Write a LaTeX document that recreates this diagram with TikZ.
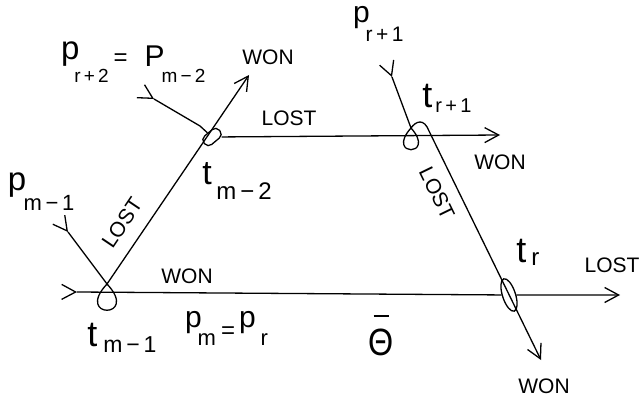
\documentclass[tikz,border=0pt]{standalone}
\usepackage{fontspec}
\setmainfont{Liberation Sans}
\usetikzlibrary{arrows.meta,decorations.markings,shapes.geometric}
\newcommand\fsz[1]{\fontsize{#1}{#1}\selectfont}
\begin{document}
\begin{tikzpicture}[x=1pt,y=-1pt,
  flow/.style={line width=1.3pt},
  >={Straight Barb[length=14pt,width=15pt]},
  startarrow/.style={postaction={decorate,decoration={markings,mark=at position 0 with {\arrow{>}}}}},
  lab/.style={inner sep=0pt,outer sep=0pt,anchor=base west},
  word/.style={inner sep=0pt,font=\fsz{21}}]
\useasboundingbox (0,0) rectangle (640,401);
\fill[white] (0,0) rectangle (640,401);
% junction points and free ends
\coordinate (bs) at (77,292);
\coordinate (pm1s) at (68,232);
\coordinate (c1) at (107,284);
\coordinate (aWonA) at (249,75);
\coordinate (pr2s) at (154,99);
\coordinate (k2) at (200,126);
\coordinate (aWonC) at (500,135);
\coordinate (pr1s) at (392,77);
\coordinate (c3) at (411,128);
\coordinate (h3) at (429,131);
\coordinate (aWonB) at (541,360);
\coordinate (aLostR) at (620,295);
% transition loops drawn as nodes
\node[draw,flow,rectangle,rounded corners=5pt,minimum width=20pt,minimum height=11pt,inner sep=0pt,rotate=40] (tm2) at (212,137) {};
\node[draw,flow,ellipse,minimum width=34pt,minimum height=13pt,inner sep=0pt,rotate=-72] (tr) at (509,295) {};
% connectors
\draw[flow,startarrow] (bs) -- (tr);
\draw[flow,->] (tr) -- (aLostR);
\draw[flow,startarrow,->] (pm1s) -- (c1) .. controls +(33,35) and +(-33,35) .. (c1) -- (aWonA);
\draw[flow,startarrow] (pr2s) -- (k2) -- (tm2);
\draw[flow,->] (tm2) -- (aWonC);
\draw[flow,startarrow,->] (pr1s) -- (c3) .. controls +(26,29) and +(-26,29) .. (c3) .. controls +(5,-7) and +(-5,-13) .. (h3) -- (aWonB);
% place labels
\node[lab] (lpr2) at (61,60) {{\fsz{33}p}\kern-5pt\raisebox{-23pt}{\fsz{19}r\,+\,2}\kern5pt\raisebox{-6pt}{\fsz{24}=}\kern17pt\raisebox{-7pt}{\fsz{30}P}\kern-3pt\raisebox{-23pt}{\fsz{19}m\,−\,2}};
\node[lab] (lpr1) at (353,22.5) {{\fsz{30}p}\kern-4pt\raisebox{-19pt}{\fsz{21}r\,+\,1}};
\node[lab] (ltr1) at (422.4,108) {{\fsz{36}t}\kern3pt\raisebox{-5pt}{\fsz{20}r\,+\,1}};
\node[lab] (ltm2) at (202.4,185) {{\fsz{34}t}\kern4.5pt\raisebox{-15pt}{\fsz{24}m\,−\,2}};
\node[lab] (lpm1) at (7.8,190) {{\fsz{33}p}\kern-2.6pt\raisebox{-20pt}{\fsz{22}m\,−\,1}};
\node[lab] (ltm1) at (87.4,346) {{\fsz{36}t}\kern6pt\raisebox{-6pt}{\fsz{23}m\,−\,1}};
\node[lab] (lpm) at (185,327) {{\fsz{30}p}\kern-4pt\raisebox{-18pt}{\fsz{22}m}\kern5pt\raisebox{-11.5pt}{\fsz{24}=}\kern4pt{\fsz{30}p}\kern4.8pt\raisebox{-18pt}{\fsz{22}r}};
\node[lab] (ltr) at (516.4,262) {{\fsz{36}t}\kern5pt\raisebox{-3pt}{\fsz{24}r}};
\node[anchor=base,inner sep=0pt] (theta) at (381,355) {\fsz{38}\begin{tabular}[b]{@{}c@{}}\rule{15pt}{1.8pt}\\\scalebox{0.85}[1]{Θ}\end{tabular}};
% transition outcome labels
\node[word] (wonTop) at (268,57) {WON};
\node[word] (lostTop) at (289,118) {LOST};
\node[word] (wonMid) at (500,162) {WON};
\node[word,rotate=-64] (lostDiag) at (437,193) {LOST};
\node[word,rotate=56] (lostLeft) at (122,223) {LOST};
\node[word] (wonBot) at (187,276) {WON};
\node[word] (lostRight) at (612,265) {LOST};
\node[word] (wonLow) at (544,386) {WON};
\end{tikzpicture}
\end{document}
